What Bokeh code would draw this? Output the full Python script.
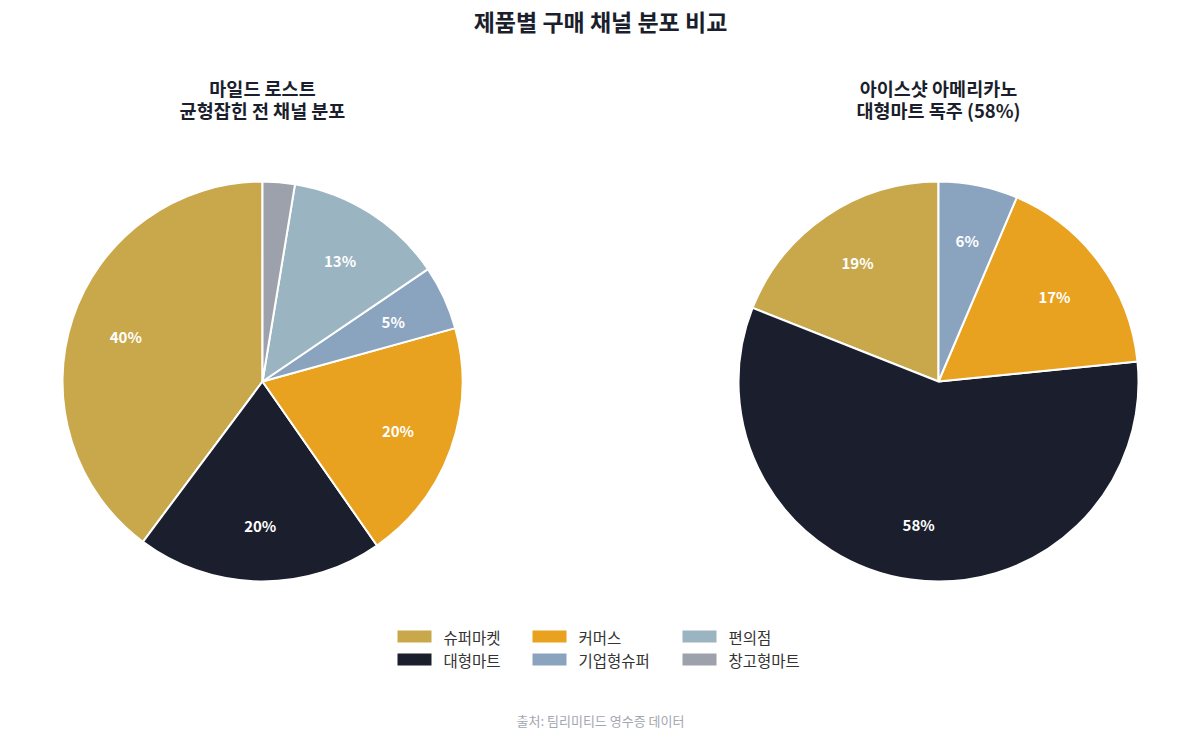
import numpy as np
from bokeh.plotting import figure
from bokeh.models import ColumnDataSource, Range1d
from bokeh.core.properties import value
from bokeh.embed import file_html
from bokeh.resources import INLINE

channels = ["슈퍼마켓", "대형마트", "커머스", "기업형슈퍼", "편의점", "창고형마트"]
colors = ["#C9A84C", "#1B1F2D", "#E8A220", "#8AA4BF", "#9BB4C1", "#9CA1AC"]
mild_roast = [39.8, 19.9, 19.6, 5.2, 12.9, 2.6]
iced_americano = [19.0, 57.6, 17.0, 6.4, 0.0, 0.0]

main_title = "제품별 구매 채널 분포 비교"
sub_titles = [["마일드 로스트", "균형잡힌 전 채널 분포"], ["아이스샷 아메리카노", "대형마트 독주 (58%)"]]
source_note = "출처: 팀리미티드 영수증 데이터"

W, H = 1184, 731
KFONT = "Noto Sans CJK KR"

p = figure(width=W, height=H, output_backend="svg", toolbar_location=None,
           x_range=Range1d(0, W), y_range=Range1d(739 - H, 739),
           min_border=0, outline_line_color=None)
p.axis.visible = False
p.grid.visible = False
p.background_fill_color = "white"
p.border_fill_color = "white"

R = 200
centers = [(262, 739 - 381), (938, 739 - 381)]

for (cx, cy), vals, sub in zip(centers, [mild_roast, iced_americano], sub_titles):
    v = np.array(vals, dtype=float)
    frac = v / v.sum()
    cum = np.concatenate([[0], np.cumsum(frac)])
    start = np.pi / 2 + cum[:-1] * 2 * np.pi
    end = np.pi / 2 + cum[1:] * 2 * np.pi
    nz = frac > 0
    src = ColumnDataSource(dict(start=start[nz], end=end[nz],
                                color=[c for c, k in zip(colors, nz) if k]))
    p.wedge(x=cx, y=cy, radius=R, start_angle="start", end_angle="end",
            fill_color="color", line_color="white", line_width=2, source=src)
    mid = (start + end) / 2
    keep = frac * 100 >= 3
    lsrc = ColumnDataSource(dict(
        x=cx + 0.72 * R * np.cos(mid[keep]),
        y=cy + 0.72 * R * np.sin(mid[keep]),
        t=["%d%%" % round(f * 100) for f in frac[keep]]))
    p.text(x="x", y="y", text="t", source=lsrc, text_color="white",
           text_font=value(KFONT), text_font_style="bold",
           text_font_size="15px", text_align="center", text_baseline="middle")
    for j, line in enumerate(sub):
        p.text(x=[cx], y=[739 - (87 + 22 * j)], text=[line], text_color="#1B1F2D",
               text_font=value(KFONT), text_font_style="bold", text_font_size="18.5px",
               text_align="center", text_baseline="middle")

p.text(x=[600], y=[739 - 20], text=[main_title], text_color="#1B1F2D",
       text_font=value(KFONT), text_font_style="bold", text_font_size="23px",
       text_align="center", text_baseline="middle")

# legend (3 columns, column-major order)
col_x = [397, 532, 682]
row_y = [739 - 636, 739 - 659]
lx, ly, lt, lc = [], [], [], []
for i, (name, c) in enumerate(zip(channels, colors)):
    col, row = i // 2, i % 2
    lx.append(col_x[col]); ly.append(row_y[row]); lt.append(name); lc.append(c)
lg = ColumnDataSource(dict(x=np.array(lx) + 17, y=ly, tx=np.array(lx) + 46, t=lt, c=lc))
p.rect(x="x", y="y", width=34, height=12, fill_color="c", line_color=None, source=lg)
p.text(x="tx", y="y", text="t", source=lg, text_color="#333333",
       text_font=value(KFONT), text_font_size="15.5px",
       text_align="left", text_baseline="middle")

p.text(x=[600], y=[739 - 720], text=[source_note], text_color="#A3A7B0",
       text_font=value(KFONT), text_font_size="13px",
       text_align="center", text_baseline="middle")

open("out.html", "w").write(file_html(p, INLINE))
